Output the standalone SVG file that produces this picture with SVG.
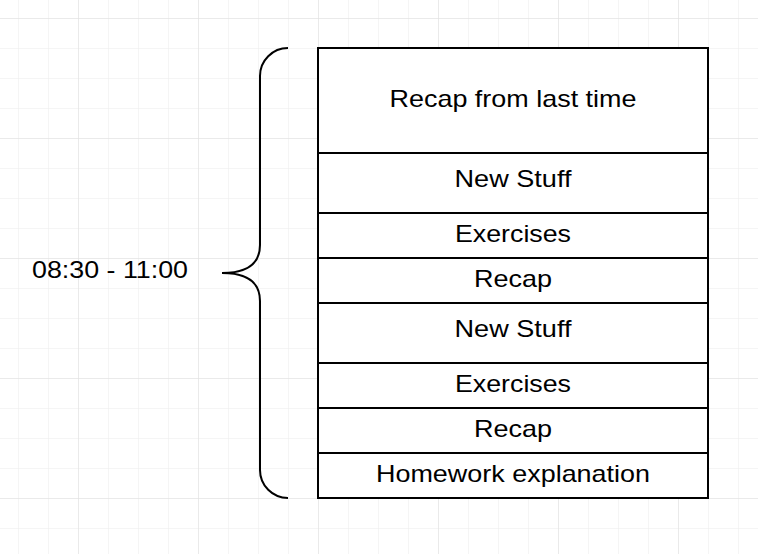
<svg xmlns="http://www.w3.org/2000/svg" width="758" height="554" viewBox="0 0 758 554">
  <defs>
    <pattern id="minor" x="18" y="18" width="30" height="30" patternUnits="userSpaceOnUse">
      <path d="M0,0 H30 M0,0 V30" fill="none" stroke="#ececec" stroke-width="1"/>
    </pattern>
    <pattern id="major" x="78" y="18" width="120" height="120" patternUnits="userSpaceOnUse">
      <path d="M0,0 H120 M0,0 V120" fill="none" stroke="#e0e0e0" stroke-width="1"/>
    </pattern>
  </defs>
  <style>
    .row { fill: #ffffff; stroke: #000000; stroke-width: 2; }
    .lbl { font-family: "Liberation Sans", Arial, sans-serif; font-size: 24px; fill: #000000; text-anchor: middle; }
    .brace { fill: none; stroke: #000000; stroke-width: 2; }
  </style>
  <rect width="758" height="554" fill="#ffffff"/>
  <rect width="758" height="554" fill="url(#minor)"/>
  <rect width="758" height="554" fill="url(#major)"/>

  <g id="brace">
    <path class="brace" d="M288,48 A28,28 0 0 0 260,76 L260,245 Q260,273 222,273 Q260,273 260,301 L260,470 A28,28 0 0 0 288,498"/>
    <text class="lbl" x="110" y="278.3" textLength="156" lengthAdjust="spacingAndGlyphs">08:30 - 11:00</text>
  </g>

  <g id="row1">
    <rect class="row" x="318" y="48" width="390" height="105"/>
    <text class="lbl" x="513" y="106.7" textLength="247" lengthAdjust="spacingAndGlyphs">Recap from last time</text>
  </g>
  <g id="row2">
    <rect class="row" x="318" y="153" width="390" height="60"/>
    <text class="lbl" x="513" y="187.3" textLength="117" lengthAdjust="spacingAndGlyphs">New Stuff</text>
  </g>
  <g id="row3">
    <rect class="row" x="318" y="213" width="390" height="45"/>
    <text class="lbl" x="513" y="241.7" textLength="116" lengthAdjust="spacingAndGlyphs">Exercises</text>
  </g>
  <g id="row4">
    <rect class="row" x="318" y="258" width="390" height="45"/>
    <text class="lbl" x="513" y="286.7" textLength="78" lengthAdjust="spacingAndGlyphs">Recap</text>
  </g>
  <g id="row5">
    <rect class="row" x="318" y="303" width="390" height="60"/>
    <text class="lbl" x="513" y="337.3" textLength="117" lengthAdjust="spacingAndGlyphs">New Stuff</text>
  </g>
  <g id="row6">
    <rect class="row" x="318" y="363" width="390" height="45"/>
    <text class="lbl" x="513" y="391.7" textLength="116" lengthAdjust="spacingAndGlyphs">Exercises</text>
  </g>
  <g id="row7">
    <rect class="row" x="318" y="408" width="390" height="45"/>
    <text class="lbl" x="513" y="436.7" textLength="78" lengthAdjust="spacingAndGlyphs">Recap</text>
  </g>
  <g id="row8">
    <rect class="row" x="318" y="453" width="390" height="45"/>
    <text class="lbl" x="513" y="482.3" textLength="274" lengthAdjust="spacingAndGlyphs">Homework explanation</text>
  </g>

  <g id="connectors"></g>
</svg>
